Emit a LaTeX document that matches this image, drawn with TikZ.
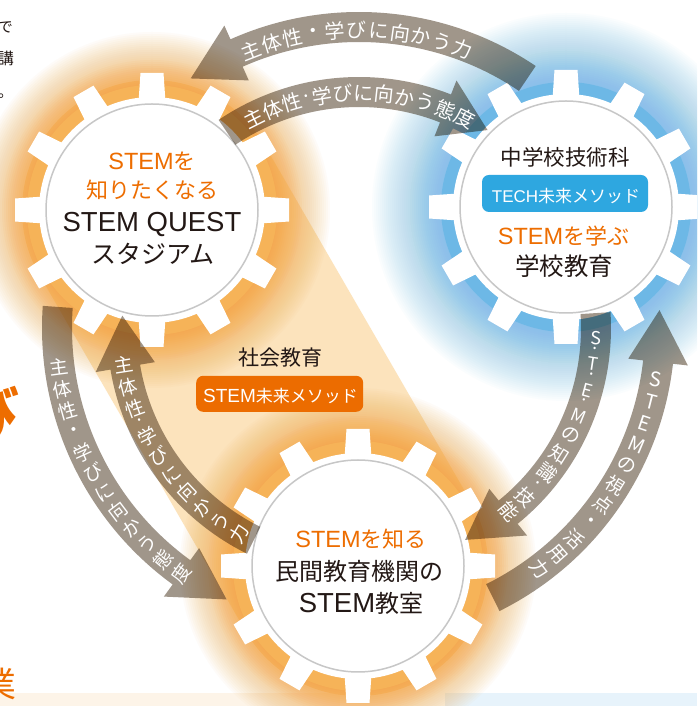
\documentclass[tikz,border=0pt]{standalone}
\usepackage{fontspec}
\setmainfont{Noto Sans CJK JP}
\newfontfamily\lat{Liberation Sans}
\definecolor{orT}{HTML}{ED6D00}
\definecolor{blk}{HTML}{231815}
\definecolor{arrowc}{HTML}{A0968A}
\definecolor{peach}{HTML}{FCE3BC}
\definecolor{glowO}{HTML}{F4A640}
\definecolor{ringO}{HTML}{F6B358}
\definecolor{glowB}{HTML}{7CC0EA}
\definecolor{ringB}{HTML}{6DB8E6}
\definecolor{boxB}{HTML}{2EA7E0}
\definecolor{boxO}{HTML}{EC6C00}
\definecolor{stripO}{HTML}{FDF4E8}
\definecolor{stripB}{HTML}{E7F3FB}
\pgfdeclareradialshading{diskshade}{\pgfpointorigin}{color(0bp)=(white); color(41bp)=(white); color(50bp)=(black!10)}
\newcommand\latx[2]{{\lat\fontsize{#1}{#1}\selectfont #2}}
\newcommand\fs[1]{\fontsize{#1}{#1}\selectfont}
\newcommand\glowO[1]{%
  \foreach \r in {112,114,...,178}
    \fill[glowO, opacity=0.035] (#1) circle[radius=\r pt];
  \foreach \r in {112,114,...,150}
    \fill[glowO, opacity=0.04] (#1) circle[radius=\r pt];}
\newcommand\glowB[1]{%
  \foreach \r in {112,114,...,194}
    \fill[glowB, opacity=0.03] (#1) circle[radius=\r pt];
  \foreach \r in {112,114,...,156}
    \fill[glowB, opacity=0.03] (#1) circle[radius=\r pt];}
\newcommand\drawgear[2]{%
  \draw[#2, line width=12pt] (#1) circle[radius=119pt];
  \fill[white] (#1) circle[radius=113pt];
  \foreach \t in {0,30,...,330}{%
    \fill[white, shift={(#1)}, rotate=\t] (108,-13.5) -- (137,-11.5) -- (137,11.5) -- (108,13.5) -- cycle;}
  \shade[shading=diskshade] (#1) circle[radius=106pt];
  \draw[black!22, line width=1.5pt] (#1) circle[radius=106pt];}
\newcommand\carrow[4]{%
  \pgfmathsetmacro\rA{#1+15}\pgfmathsetmacro\rB{#1-15}%
  \pgfmathsetmacro\rC{#1+30}\pgfmathsetmacro\rD{#1-30}%
  \fill[arrowc] (#2:\rA) arc[start angle=#2, end angle=#3, radius=\rA] -- (#3:\rC) -- (#4:#1) -- (#3:\rD) -- (#3:\rB) arc[start angle=#3, end angle=#2, radius=\rB] -- cycle;}
\tikzset{
  atxt/.style={text=white, inner sep=0pt, font=\fs{20}},
  vtxt/.style={text=white, inner sep=0pt, font=\fs{19}},
  ltxt/.style={text=white, inner sep=0pt, font=\fs{18}},
  mtxt/.style={text=white, inner sep=0pt, font=\fs{20}},
  gtxt/.style={inner sep=0pt, anchor=base},
}
\begin{document}
\begin{tikzpicture}[x=1pt,y=1pt]
\useasboundingbox (0,0) rectangle (697,706);
\clip (0,0) rectangle (697,706);
\fill[white] (0,0) rectangle (697,706);
\fill[stripO] (0,0) rectangle (340,13);
\fill[stripB] (445,0) rectangle (697,13);
\coordinate (A) at (152,496);
\coordinate (B) at (566,499);
\coordinate (C) at (358,140);
\coordinate (O) at (359,378);
% peach belt between A and C
\fill[peach] (A) circle[radius=130pt];
\fill[peach] (C) circle[radius=130pt];
\fill[peach] (264.5,561.1) -- (470.5,205.1) -- (245.5,74.9) -- (39.5,430.9) -- cycle;
% glows
\glowO{A}
\glowO{C}
\glowB{B}
% gears
\drawgear{A}{ringO}
\drawgear{B}{ringB}
\drawgear{C}{ringO}
% arrows
\begin{scope}[shift={(O)}, blend mode=multiply]
\carrow{301}{56}{114}{124}
\carrow{236}{124}{68.5}{57}
\carrow{302}{176}{234}{244}
\carrow{237}{243.6}{189.5}{177}
\carrow{237}{3.6}{-51}{-63.4}
\carrow{301}{-63.6}{-6.5}{3.4}
\end{scope}
% arrow texts
\begin{scope}[shift={(O)}]
\foreach \c/\a [count=\i] in {主/111.2,体/107.04,性/102.88,・/98.72,学/94.56,び/90.4,に/86.24,向/82.08,か/77.92,う/73.76,力/69.6}
  \node[atxt, rotate=\a-90] (ta\i) at (\a:298) {\c};
\foreach \c/\a [count=\i] in {主/116.7,体/111.58,性/106.46,·/102.8,学/99.14,び/94.02,に/88.9,向/83.78,か/78.66,う/73.54,態/68.42,度/63.3}
  \node[atxt, rotate=\a-90] (tb\i) at (\a:235) {\c};
\foreach \c/\a [count=\i] in {主/187.4,体/191.64,性/195.88,・/200.12,学/204.36,び/208.6,に/212.84,向/217.08,か/221.32,う/225.56,態/229.8,度/234.04}
  \node[vtxt, rotate=\a-180] (tc\i) at (\a:303) {\c};
\foreach \c/\a [count=\i] in {主/188.9,体/194.3,性/199.7,·/203.5,学/207.3,び/212.7,に/218.1,向/223.5,か/228.9,う/234.3,力/239.7}
  \node[vtxt, rotate=\a-180] (td\i) at (\a:238) {\c};
\foreach \c/\a [count=\i] in {S/-2.4,·/-5.54,T/-8.69,·/-11.83,E/-15.22,·/-18.36,M/-21.74}
  \node[ltxt, rotate=\a] (te\i) at (\a:237) {\c};
\foreach \c/\a [count=\i] in {の/-26.82,知/-32.14,識/-37.46,·/-41.57,技/-45.44,能/-50.76}
  \node[vtxt, rotate=\a] (tg\i) at (\a:237) {\c};
\foreach \c/\a [count=\i] in {S/-9.9,T/-14.21,E/-18.52,M/-22.83}
  \node[mtxt, rotate=\a] (tf\i) at (\a:301) {\c};
\foreach \c/\a [count=\i] in {の/-27.14,視/-31.45,点/-35.76,・/-40.07,活/-44.38,用/-48.69,力/-53}
  \node[vtxt, rotate=\a] (th\i) at (\a:301) {\c};
\end{scope}
% gear A texts
\node[gtxt, text=orT, font=\fs{22}] (a1) at (152,536) {\latx{23.5}{STEM}を};
\node[gtxt, text=orT, font=\fs{22}] (a2) at (152,507) {知りたくなる};
\node[gtxt, text=blk, font=\fs{25}] (a3) at (152,474.3) {\latx{27.5}{STEM QUEST}};
\node[gtxt, text=blk, font=\fs{25}] (a4) at (153,442.5) {スタジアム};
% gear B texts
\node[gtxt, text=blk, font=\fs{21.5}] (b1) at (565,540) {中学校技術科};
\node[fill=boxB, rounded corners=7pt, minimum width=166pt, minimum height=37pt, inner sep=0pt] (b2box) at (565,512.5) {};
\node[gtxt, text=white, font=\fs{17}] (b2) at (566,503) {\latx{17}{TECH}未来メソッド};
\node[gtxt, text=orT, font=\fs{22}] (b3) at (563.5,461) {\latx{23.5}{STEM}を学ぶ};
\node[gtxt, text=blk, font=\fs{24.5}] (b4) at (564,430) {学校教育};
% gear C texts
\node[gtxt, text=orT, font=\fs{22}] (c1) at (361,158) {\latx{23.5}{STEM}を知る};
\node[gtxt, text=blk, font=\fs{24}] (c2) at (359,125) {民間教育機関の};
\node[gtxt, text=blk, font=\fs{24}] (c3) at (361,93) {\latx{27.5}{STEM}教室};
% middle
\node[gtxt, text=blk, font=\fs{21}] (m1) at (280,340) {社会教育};
\node[fill=boxO, rounded corners=7pt, minimum width=167pt, minimum height=36pt, inner sep=0pt] (m2box) at (279.7,312.2) {};
\node[gtxt, text=white, font=\fs{17}] (m2) at (280.5,303.5) {\latx{19}{STEM}未来メソッド};
% clipped texts at the left edge
\node[inner sep=0pt, anchor=base east, text=blk, font=\fs{15}] (e1) at (13,673) {で};
\node[inner sep=0pt, anchor=base east, text=blk, font=\fs{16}] (e2) at (14,641) {講};
\node[inner sep=0pt, anchor=base west, text=blk, font=\fs{15}] (e3) at (-2,608.5) {。};
\node[inner sep=0pt, anchor=base east, text=orT, font=\fs{60}\bfseries] (e4) at (20,268) {び};
\node[inner sep=0pt, anchor=base east, text=orT, font=\fs{35}] (e5) at (16.5,9) {業};
\end{tikzpicture}
\end{document}
